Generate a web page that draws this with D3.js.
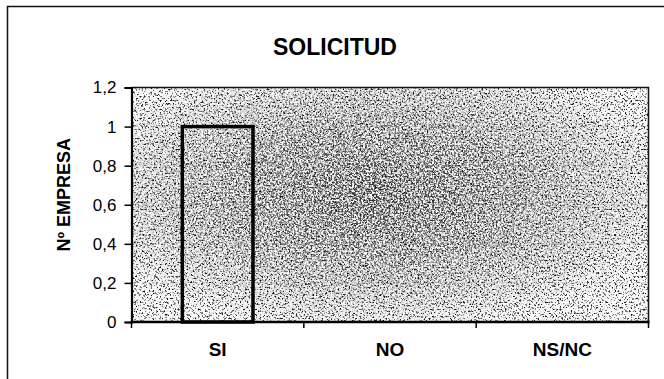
<!DOCTYPE html>
<html>
<head>
<meta charset="utf-8">
<script src="https://cdn.jsdelivr.net/npm/d3@7"></script>
<style>
  html, body { margin: 0; padding: 0; background: #fff; }
  svg { display: block; font-family: "Liberation Sans", Arial, sans-serif; }
</style>
</head>
<body>
<svg id="chart" width="664" height="379"></svg>
<script>
// Chart data
const categories = ["SI", "NO", "NS/NC"];
const values = [1, 0, 0];
const yTickValues = [0, 0.2, 0.4, 0.6, 0.8, 1, 1.2];
const yTickLabels = ["0", "0,2", "0,4", "0,6", "0,8", "1", "1,2"];
const titleText = "SOLICITUD";
const yTitleText = "Nº EMPRESA";

const svg = d3.select("#chart");
const plot = { left: 131.5, right: 648.5, top: 87.5, bottom: 322 };

const x = d3.scaleBand()
  .domain(categories)
  .range([plot.left, plot.right])
  .paddingInner(0.59)
  .paddingOuter(0.295);

const xBand = d3.scaleBand()
  .domain(categories)
  .range([plot.left, plot.right]);

const y = d3.scaleLinear()
  .domain([0, 1.2])
  .range([plot.bottom, plot.top]);

// Stippled grey texture of the plot area
const defs = svg.append("defs");

function grainFilter(id, seed, freq, table, ink) {
  const f = defs.append("filter")
    .attr("id", id)
    .attr("x", 0).attr("y", 0).attr("width", 1).attr("height", 1)
    .attr("filterUnits", "objectBoundingBox");
  f.append("feTurbulence")
    .attr("type", "fractalNoise").attr("baseFrequency", freq)
    .attr("numOctaves", 2).attr("seed", seed).attr("result", "n");
  f.append("feColorMatrix")
    .attr("in", "n").attr("type", "matrix")
    .attr("values", "0 0 0 0 0  0 0 0 0 0  0 0 0 0 0  -1 0 0 0 1")
    .attr("result", "inv");
  const ct = f.append("feComponentTransfer").attr("in", "inv").attr("result", "dots");
  ct.append("feFuncA").attr("type", "discrete").attr("tableValues", table);
  f.append("feFlood").attr("flood-color", ink).attr("result", "ink");
  f.append("feComposite").attr("in", "ink").attr("in2", "dots").attr("operator", "in");
}
grainFilter("grainBase", 7, 0.55, "0 0 0 0 0 0.1 0.55 0.95 1 1", "#1a1a1a");
grainFilter("grainDense", 19, 0.55, "0 0 0 0 0.15 0.5 0.9 1 1 1", "#2a2a2a");

// Denser speckling toward the middle of the plot area
const rg = defs.append("radialGradient")
  .attr("id", "centreFade").attr("cx", 0.47).attr("cy", 0.45).attr("r", 0.6);
rg.append("stop").attr("offset", 0).attr("stop-color", "#fff");
rg.append("stop").attr("offset", 0.5).attr("stop-color", "#999");
rg.append("stop").attr("offset", 1).attr("stop-color", "#000");

const pw = plot.right - plot.left, ph = plot.bottom - plot.top;
defs.append("mask").attr("id", "centreMask")
  .attr("maskUnits", "userSpaceOnUse")
  .attr("x", plot.left).attr("y", plot.top).attr("width", pw).attr("height", ph)
  .append("rect")
  .attr("x", plot.left).attr("y", plot.top).attr("width", pw).attr("height", ph)
  .attr("fill", "url(#centreFade)");

svg.append("rect")
  .attr("x", plot.left).attr("y", plot.top).attr("width", pw).attr("height", ph)
  .attr("fill", "#fff");
svg.append("rect")
  .attr("x", plot.left).attr("y", plot.top).attr("width", pw).attr("height", ph)
  .attr("fill", "#fff").attr("filter", "url(#grainBase)");
svg.append("g").attr("mask", "url(#centreMask)")
  .append("rect")
  .attr("x", plot.left).attr("y", plot.top).attr("width", pw).attr("height", ph)
  .attr("fill", "#fff").attr("filter", "url(#grainDense)");

// Faint horizontal gridlines
svg.append("g")
  .selectAll("line")
  .data(yTickValues.filter(v => v > 0 && v < 1.2))
  .join("line")
  .attr("x1", plot.left).attr("x2", plot.right)
  .attr("y1", d => y(d)).attr("y2", d => y(d))
  .attr("stroke", "#777").attr("stroke-width", 1)
  .attr("stroke-dasharray", "6 4").attr("opacity", 0.35);

// Outer chart frame
svg.append("rect")
  .attr("x", 7.5).attr("y", 6.5)
  .attr("width", 700).attr("height", 420)
  .attr("fill", "none").attr("stroke", "#111").attr("stroke-width", 1.5);

// Plot area border (top and right)
svg.append("path")
  .attr("d", `M${plot.left},${plot.top}H${plot.right}V${plot.bottom}`)
  .attr("fill", "none").attr("stroke", "#111").attr("stroke-width", 1.5);

// Bars
svg.append("g")
  .selectAll("rect")
  .data(categories.map((c, i) => ({ c, v: values[i] })).filter(d => d.v > 0))
  .join("rect")
  .attr("x", d => x(d.c))
  .attr("y", d => y(d.v))
  .attr("width", x.bandwidth())
  .attr("height", d => y(0) - y(d.v))
  .attr("fill", "none")
  .attr("stroke", "#000")
  .attr("stroke-width", 3.5);

// Y axis
const yAxis = d3.axisLeft(y)
  .tickValues(yTickValues)
  .tickFormat((d, i) => yTickLabels[i])
  .tickSize(7)
  .tickPadding(8);
const gy = svg.append("g")
  .attr("transform", `translate(${plot.left},0)`)
  .call(yAxis);
gy.select(".domain").attr("stroke", "#000").attr("stroke-width", 2.2);
gy.selectAll(".tick line").attr("stroke", "#000").attr("stroke-width", 1.5);
gy.selectAll(".tick text")
  .attr("font-size", 17).attr("fill", "#000")
  .attr("font-family", "'Liberation Sans', Arial, sans-serif");

// X axis: labels centred in bands, ticks at band boundaries
const xAxis = d3.axisBottom(x).tickSize(0).tickPadding(21);
const gx = svg.append("g")
  .attr("transform", `translate(0,${plot.bottom})`)
  .call(xAxis);
gx.select(".domain").remove();
gx.selectAll(".tick text")
  .attr("font-size", 19).attr("font-weight", "bold").attr("fill", "#000")
  .attr("font-family", "'Liberation Sans', Arial, sans-serif");

const edges = categories.map(c => xBand(c)).concat([xBand(categories[categories.length - 1]) + xBand.bandwidth()]);
svg.append("g")
  .selectAll("line")
  .data(edges)
  .join("line")
  .attr("x1", d => d).attr("x2", d => d)
  .attr("y1", plot.bottom).attr("y2", plot.bottom + 6)
  .attr("stroke", "#000").attr("stroke-width", 1.5);

svg.append("line")
  .attr("x1", plot.left - 1).attr("x2", plot.right + 1)
  .attr("y1", plot.bottom).attr("y2", plot.bottom)
  .attr("stroke", "#000").attr("stroke-width", 2.5);

// Titles
svg.append("text")
  .attr("x", 335).attr("y", 47)
  .attr("text-anchor", "middle").attr("dominant-baseline", "central")
  .attr("font-size", 23).attr("font-weight", "bold")
  .text(titleText);

svg.append("text")
  .attr("transform", `translate(64,${(plot.top + plot.bottom) / 2 - 10}) rotate(-90)`)
  .attr("text-anchor", "middle").attr("dominant-baseline", "central")
  .attr("font-size", 18).attr("font-weight", "bold")
  .text(yTitleText);
</script>
</body>
</html>
